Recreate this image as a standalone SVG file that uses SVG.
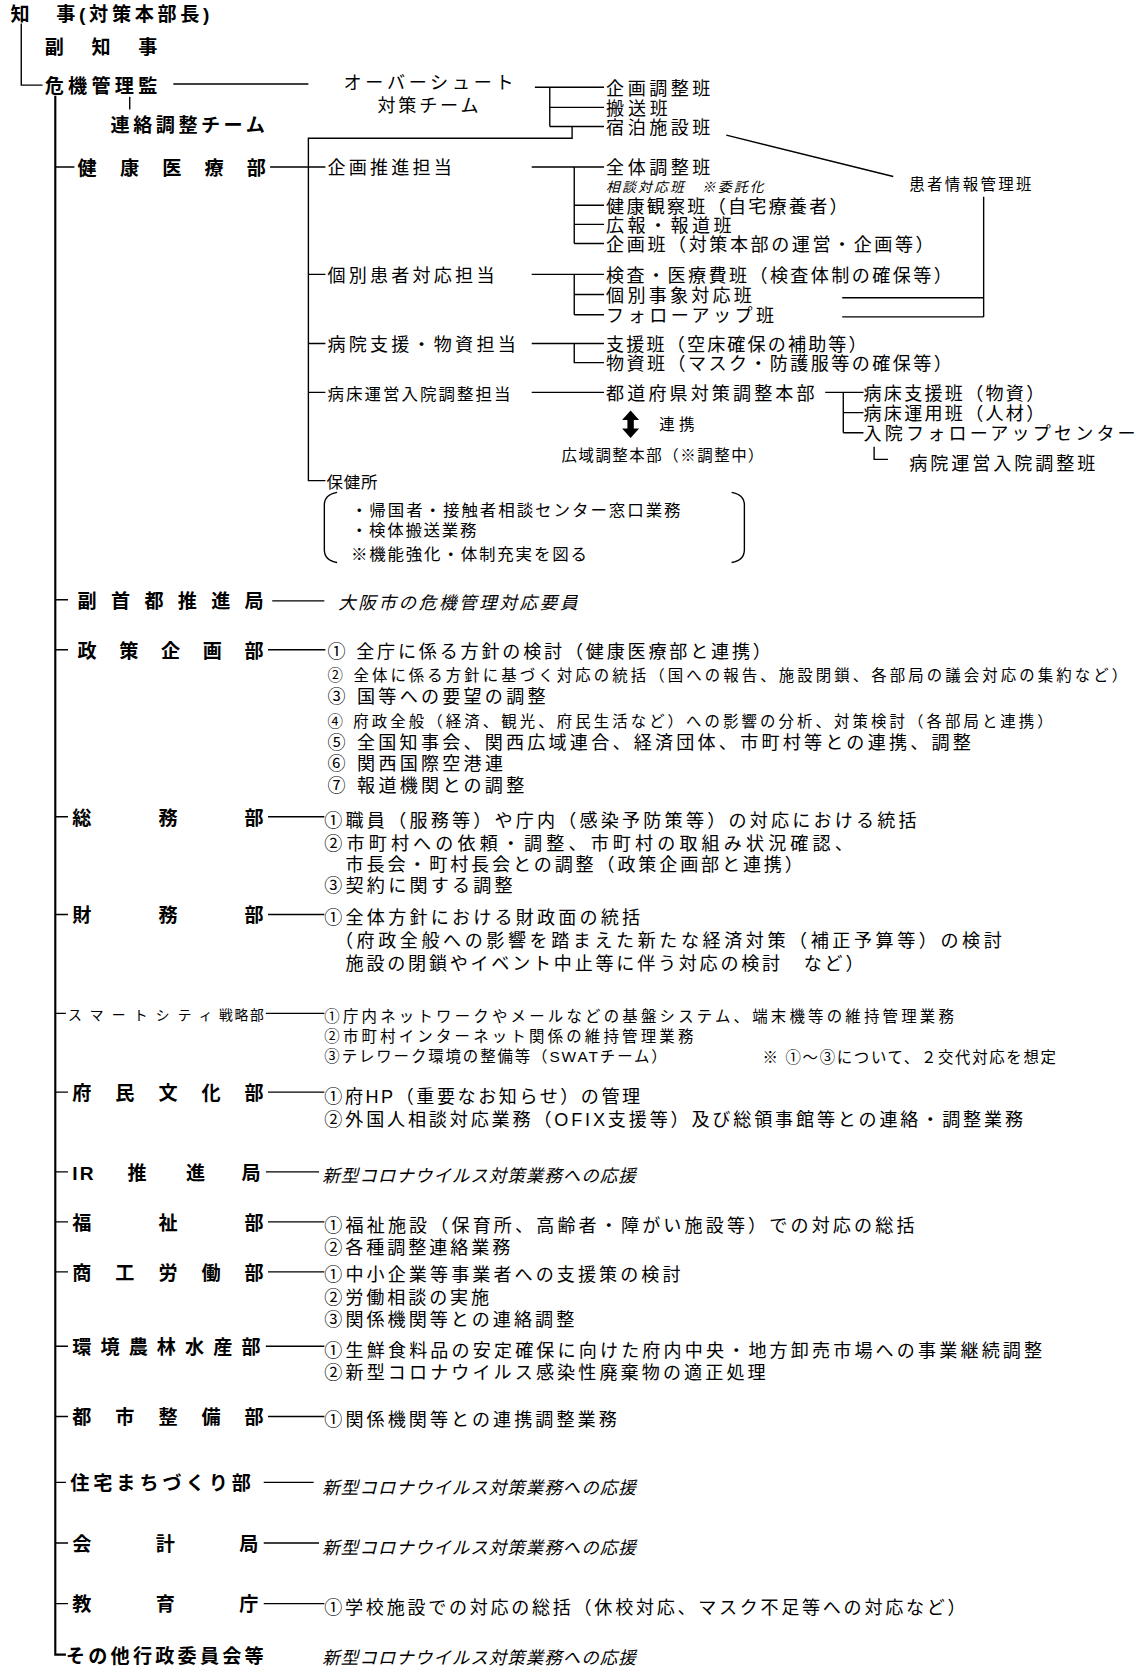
<svg xmlns="http://www.w3.org/2000/svg" width="1141" height="1668" viewBox="0 0 1141 1668">
<style>
text{font-family:"Liberation Sans","Noto Sans CJK JP","Noto Sans CJK SC",sans-serif;fill:#000;dominant-baseline:central}
.d{font-size:18px;font-weight:700}
.t{font-size:17px;font-weight:400}
.s{font-size:14.5px;font-weight:400}
.xs{font-size:13px;font-weight:400}
.i{font-style:italic;font-size:16.5px}
.ln{stroke:#000;stroke-width:1.3;fill:none}
.mn{stroke:#000;stroke-width:2;fill:none}
</style>
<rect width="1141" height="1668" fill="#fff"/>
<g transform="scale(1.0634)">
<g id="connectors">
<path class="ln" d="M20 22V80H40"/>
<path class="mn" d="M52 90V1556H62"/>
<path class="ln" d="M122 91V103"/>
<path class="ln" d="M163 79H290"/>
<path class="ln" d="M503 82H568M517 82V119M517 101H568M517 119H568M538 119V130H290V452H306"/>
<path class="ln" d="M683 127L840 166"/>
<path class="ln" d="M925 185V298M792 280H925M792 298H925"/>
<path class="ln" d="M52 157H70M254 157H306"/>
<path class="ln" d="M290 258H306M290 323H306M290 369H306"/>
<path class="ln" d="M500 157H568M540 157V229M540 193H568M540 211H568M540 229H568"/>
<path class="ln" d="M500 258H568M540 258V296M540 277H568M540 296H568"/>
<path class="ln" d="M500 323H568M540 323V341H568"/>
<path class="ln" d="M500 369H568"/>
<path class="ln" d="M776 369H812M793 369V407M793 388H812M793 407H812"/>
<path class="ln" d="M822 420V432H835"/>
<polygon points="593,386 601,395 596,395 596,403 601,403 593,412 585,403 590,403 590,395 585,395" fill="#000"/>
<path class="ln" d="M317 463Q305 465 305 475V517Q305 527 317 529"/>
<path class="ln" d="M688 463Q700 465 700 475V517Q700 527 688 529"/>
<path class="ln" d="M52 564H64M256 565H305"/>
<path class="ln" d="M52 611H64M252 611H306"/>
<path class="ln" d="M52 768H64M252 768H305"/>
<path class="ln" d="M52 860H64M252 860H305"/>
<path class="ln" d="M52 953H62M250 953H305"/>
<path class="ln" d="M52 1027H64M252 1027H305"/>
<path class="ln" d="M52 1102H64M250 1102H300"/>
<path class="ln" d="M52 1149H64M252 1149H305"/>
<path class="ln" d="M52 1196H64M252 1196H305"/>
<path class="ln" d="M52 1266H64M250 1266H305"/>
<path class="ln" d="M52 1332H64M252 1332H305"/>
<path class="ln" d="M52 1394H62M248 1394H295"/>
<path class="ln" d="M52 1451H64M248 1451H300"/>
<path class="ln" d="M52 1508H64M248 1508H305"/>
</g>
<g transform="translate(0,1.3)">
<g id="chiji"><text class="d" x="10" y="12" textLength="187">知　事(対策本部長)</text></g>
<g id="fukuchiji"><text class="d" x="42" y="43" textLength="106">副知事</text></g>
<g id="kikikanrikan"><text class="d" x="42" y="80" textLength="106">危機管理監</text></g>
<g id="renraku"><text class="d" x="104" y="117" textLength="145">連絡調整チーム</text></g>
<g id="overshoot"><text class="t" x="323" y="77" textLength="160">オーバーシュート</text><text class="t" x="355" y="98" textLength="95">対策チーム</text></g>
<g id="os-kikaku"><text class="t" x="570" y="82" textLength="98">企画調整班</text></g>
<g id="os-hanso"><text class="t" x="570" y="101" textLength="58">搬送班</text></g>
<g id="os-shukuhaku"><text class="t" x="570" y="119" textLength="98">宿泊施設班</text></g>
<g id="kanja"><text class="s" x="855" y="172" textLength="115">患者情報管理班</text></g>
<g id="kenko"><text class="d" x="73" y="157" textLength="177">健康医療部</text></g>
<g id="kikakusuishin"><text class="t" x="308" y="157" textLength="117">企画推進担当</text></g>
<g id="zentai"><text class="t" x="570" y="157" textLength="98">全体調整班</text></g>
<g id="sodan"><text class="xs" x="570" y="175" textLength="148" style="font-style:italic">相談対応班　※委託化</text></g>
<g id="kenkokansatsu"><text class="t" x="570" y="193" textLength="227">健康観察班（自宅療養者）</text></g>
<g id="koho"><text class="t" x="570" y="211" textLength="118">広報・報道班</text></g>
<g id="kikakuhan"><text class="t" x="570" y="229" textLength="308">企画班（対策本部の運営・企画等）</text></g>
<g id="kobetsukanja"><text class="t" x="308" y="258" textLength="157">個別患者対応担当</text></g>
<g id="kensa"><text class="t" x="570" y="258" textLength="325">検査・医療費班（検査体制の確保等）</text></g>
<g id="kobetsujisho"><text class="t" x="570" y="277" textLength="137">個別事象対応班</text></g>
<g id="followup"><text class="t" x="570" y="296" textLength="158">フォローアップ班</text></g>
<g id="byoinshien"><text class="t" x="308" y="323" textLength="177">病院支援・物資担当</text></g>
<g id="shienhan"><text class="t" x="570" y="323" textLength="245">支援班（空床確保の補助等）</text></g>
<g id="busshihan"><text class="t" x="570" y="341" textLength="325">物資班（マスク・防護服等の確保等）</text></g>
<g id="byosho"><text class="t" x="308" y="369" textLength="172" style="font-size:15.5px">病床運営入院調整担当</text></g>
<g id="todofuken"><text class="t" x="570" y="369" textLength="196">都道府県対策調整本部</text></g>
<g id="byoshoshien"><text class="t" x="812" y="369" textLength="170">病床支援班（物資）</text></g>
<g id="byoshounyo"><text class="t" x="812" y="388" textLength="170">病床運用班（人材）</text></g>
<g id="nyuinfollow"><text class="t" x="812" y="407" textLength="256">入院フォローアップセンター</text></g>
<g id="byoinunei"><text class="t" x="855" y="435" textLength="175">病院運営入院調整班</text></g>
<g id="renkei"><text class="s" x="620" y="398" textLength="33">連携</text></g>
<g id="koiki"><text class="s" x="528" y="427" textLength="190">広域調整本部（※調整中）</text></g>
<g id="hokenjo"><text class="t" x="307" y="452" textLength="48" style="font-size:15.5px">保健所</text>
<text class="t" x="330" y="478" textLength="310" style="font-size:15.5px">・帰国者・接触者相談センター窓口業務</text>
<text class="t" x="330" y="497" textLength="118" style="font-size:15.5px">・検体搬送業務</text>
<text class="t" x="330" y="520" textLength="222" style="font-size:15.5px">※機能強化・体制充実を図る</text></g>
<g id="fukushuto"><text class="d" x="73" y="564" textLength="175">副首都推進局</text><text class="i" x="318" y="566" textLength="225">大阪市の危機管理対応要員</text></g>
<g id="seisaku"><text class="d" x="73" y="611" textLength="175">政策企画部</text>
<text class="t" x="308" y="612" textLength="417">① 全庁に係る方針の検討（健康医療部と連携）</text>
<text class="s" x="308" y="634" textLength="752">② 全体に係る方針に基づく対応の統括（国への報告、施設閉鎖、各部局の議会対応の集約など）</text>
<text class="t" x="308" y="654" textLength="205">③ 国等への要望の調整</text>
<text class="s" x="308" y="677" textLength="682">④ 府政全般（経済、観光、府民生活など）への影響の分析、対策検討（各部局と連携）</text>
<text class="t" x="308" y="697" textLength="605">⑤ 全国知事会、関西広域連合、経済団体、市町村等との連携、調整</text>
<text class="t" x="308" y="717" textLength="165">⑥ 関西国際空港連</text>
<text class="t" x="308" y="738" textLength="185">⑦ 報道機関との調整</text></g>
<g id="somu"><text class="d" x="68" y="768" textLength="180">総務部</text>
<text class="t" x="305" y="771" textLength="557">①職員（服務等）や庁内（感染予防策等）の対応における統括</text>
<text class="t" x="305" y="792" textLength="497">②市町村への依頼・調整、市町村の取組み状況確認、</text>
<text class="t" x="325" y="812" textLength="430">市長会・町村長会との調整（政策企画部と連携）</text>
<text class="t" x="305" y="832" textLength="177">③契約に関する調整</text></g>
<g id="zaimu"><text class="d" x="68" y="860" textLength="180">財務部</text>
<text class="t" x="305" y="862" textLength="297">①全体方針における財政面の統括</text>
<text class="t" x="315" y="884" textLength="627">（府政全般への影響を踏まえた新たな経済対策（補正予算等）の検討</text>
<text class="t" x="325" y="905" textLength="487">施設の閉鎖やイベント中止等に伴う対応の検討　など）</text></g>
<g id="smartcity"><text class="xs" x="64" y="953" textLength="136">スマートシティ</text><text class="xs" x="206" y="953" textLength="42">戦略部</text>
<text class="s" x="305" y="955" textLength="592">①庁内ネットワークやメールなどの基盤システム、端末機等の維持管理業務</text>
<text class="s" x="305" y="973" textLength="347">②市町村インターネット関係の維持管理業務</text>
<text class="s" x="305" y="992" textLength="322">③テレワーク環境の整備等（SWATチーム）</text>
<text class="s" x="717" y="993" textLength="276">※ ①～③について、２交代対応を想定</text></g>
<g id="fumin"><text class="d" x="68" y="1027" textLength="180">府民文化部</text>
<text class="t" x="305" y="1030" textLength="297">①府HP（重要なお知らせ）の管理</text>
<text class="t" x="305" y="1052" textLength="657">②外国人相談対応業務（OFIX支援等）及び総領事館等との連絡・調整業務</text></g>
<g id="ir"><text class="d" x="68" y="1102"><tspan x="68" textLength="20">IR</tspan><tspan x="120">推</tspan><tspan x="175">進</tspan><tspan x="227">局</tspan></text><text class="i" x="303" y="1105" textLength="295">新型コロナウイルス対策業務への応援</text></g>
<g id="fukushi"><text class="d" x="68" y="1149" textLength="180">福祉部</text>
<text class="t" x="305" y="1152" textLength="555">①福祉施設（保育所、高齢者・障がい施設等）での対応の総括</text>
<text class="t" x="305" y="1172" textLength="175">②各種調整連絡業務</text></g>
<g id="shoko"><text class="d" x="68" y="1196" textLength="180">商工労働部</text>
<text class="t" x="305" y="1198" textLength="335">①中小企業等事業者への支援策の検討</text>
<text class="t" x="305" y="1219" textLength="155">②労働相談の実施</text>
<text class="t" x="305" y="1240" textLength="235">③関係機関等との連絡調整</text></g>
<g id="kankyo"><text class="d" x="68" y="1266" textLength="177">環境農林水産部</text>
<text class="t" x="305" y="1269" textLength="675">①生鮮食料品の安定確保に向けた府内中央・地方卸売市場への事業継続調整</text>
<text class="t" x="305" y="1290" textLength="415">②新型コロナウイルス感染性廃棄物の適正処理</text></g>
<g id="toshi"><text class="d" x="68" y="1332" textLength="180">都市整備部</text>
<text class="t" x="305" y="1334" textLength="275">①関係機関等との連携調整業務</text></g>
<g id="jutaku"><text class="d" x="66" y="1394" textLength="170">住宅まちづくり部</text><text class="i" x="303" y="1398" textLength="295">新型コロナウイルス対策業務への応援</text></g>
<g id="kaikei"><text class="d" x="68" y="1451" textLength="175">会計局</text><text class="i" x="303" y="1454" textLength="295">新型コロナウイルス対策業務への応援</text></g>
<g id="kyoiku"><text class="d" x="68" y="1508" textLength="175">教育庁</text>
<text class="t" x="305" y="1511" textLength="603">①学校施設での対応の総括（休校対応、マスク不足等への対応など）</text></g>
<g id="sonota"><text class="d" x="62" y="1556" textLength="186">その他行政委員会等</text><text class="i" x="303" y="1558" textLength="295">新型コロナウイルス対策業務への応援</text></g>
</g>
</g>
</svg>
